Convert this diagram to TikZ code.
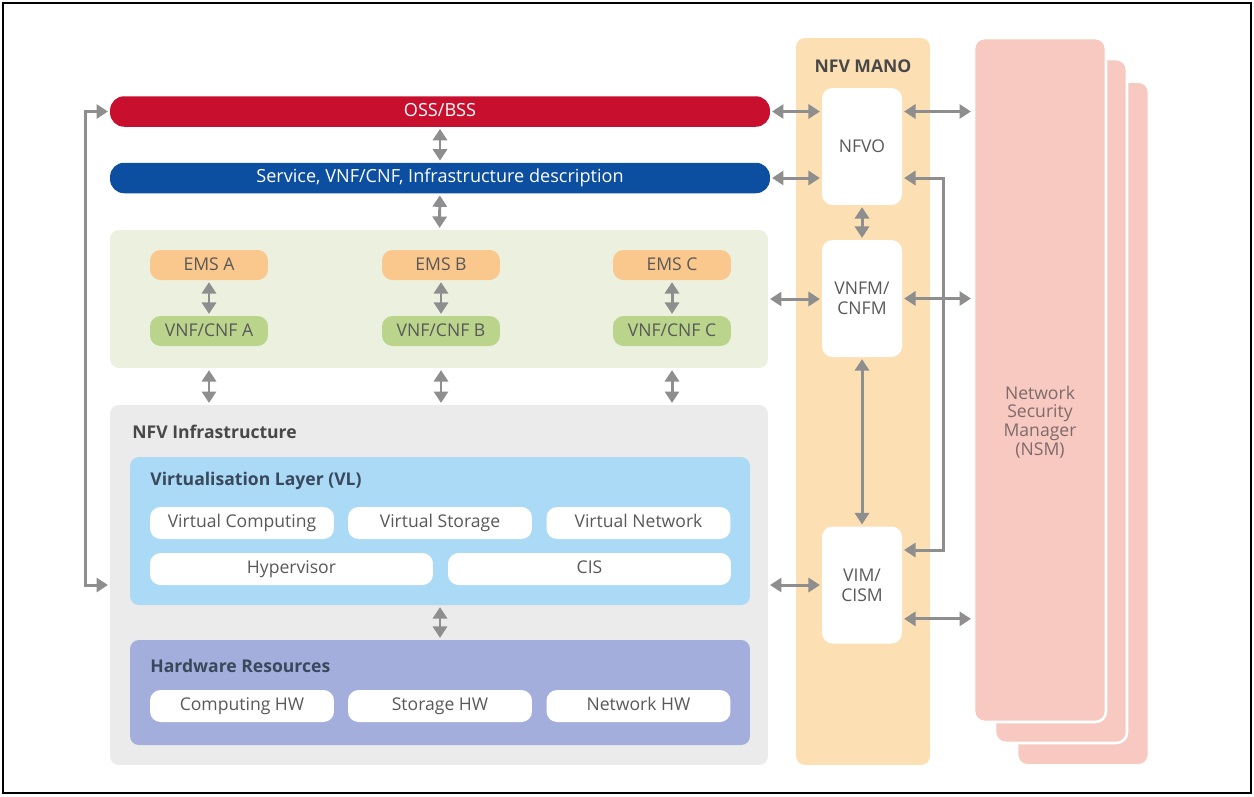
\documentclass[tikz,border=0pt]{standalone}
\usepackage{fontspec}
\setmainfont{Open Sans}
\usetikzlibrary{arrows.meta, positioning, calc}

\definecolor{ossred}{RGB}{200,16,46}
\definecolor{descblue}{RGB}{12,78,160}
\definecolor{vnfarea}{RGB}{235,241,222}
\definecolor{emsorange}{RGB}{250,199,140}
\definecolor{vnfgreen}{RGB}{187,212,140}
\definecolor{nfvigray}{RGB}{235,235,235}
\definecolor{vlblue}{RGB}{170,218,245}
\definecolor{hwblue}{RGB}{164,174,220}
\definecolor{manoorange}{RGB}{252,224,180}
\definecolor{nsmpink}{RGB}{247,201,193}
\definecolor{nsmtxt}{RGB}{125,107,107}
\definecolor{txtgray}{RGB}{89,89,89}
\definecolor{ttlgray}{RGB}{72,72,72}
\definecolor{ttlslate}{RGB}{58,72,92}
\definecolor{arrgray}{RGB}{142,142,142}

\begin{document}
\begin{tikzpicture}[x=0.02cm, y=-0.02cm,
  every node/.style={inner sep=0pt},
  area/.style={rounded corners=5pt},
  bar/.style={rounded corners=8pt, text=white, font=\fontsize{10.3}{12}\selectfont,
    text height=7.5pt, text depth=2pt, minimum width=13.2cm, minimum height=0.61cm},
  pill/.style={rounded corners=6pt, text=txtgray, font=\fontsize{10}{12}\selectfont,
    text height=7.5pt, text depth=1.5pt, minimum width=2.36cm, minimum height=0.6cm},
  box/.style={rounded corners=6pt, fill=white, text=txtgray, font=\fontsize{10}{12}\selectfont,
    text height=7.5pt, text depth=2pt, minimum height=0.64cm},
  mbox/.style={rounded corners=6pt, fill=white, text=txtgray, align=center,
    font=\fontsize{10}{11.5}\selectfont, minimum width=1.6cm, minimum height=2.34cm},
  ttl/.style={anchor=west, font=\fontsize{10}{12}\selectfont\bfseries},
  page/.style={rounded corners=6pt, fill=nsmpink, draw=white, line width=1.5pt,
    minimum width=2.64cm, minimum height=13.68cm},
  link/.style={draw=arrgray, line width=1.7pt,
    {Triangle[length=6.5pt,width=8pt]}-{Triangle[length=6.5pt,width=8pt]},
    shorten <=1pt, shorten >=1pt}]

  \useasboundingbox (0,0) rectangle (1254,796);
  \draw[line width=1.2pt] (3,3) rectangle (1251,793);

  % top bars
  \node[bar, fill=ossred] (oss) at (440,111.5) {OSS/BSS};
  \node[bar, fill=descblue] (desc) at (440,178) {Service, VNF/CNF, Infrastructure description};

  % VNF area
  \node[area, fill=vnfarea, minimum width=13.16cm, minimum height=2.76cm] (vnfs) at (439,299) {};
  \foreach \x/\n in {209/A, 441/B, 672/C} {
    \node[pill, fill=emsorange] (ems\n) at (\x,265) {EMS \n};
    \node[pill, fill=vnfgreen] (vnf\n) at (\x,331) {VNF/CNF \n};
    \draw[link] (ems\n) -- (vnf\n);
  }

  % NFV infrastructure
  \node[area, fill=nfvigray, minimum width=13.16cm, minimum height=7.2cm] (nfvi) at (439,585) {};
  \node[ttl, text=ttlgray] (nfvittl) at (132,432) {NFV Infrastructure};

  \node[area, fill=vlblue, minimum width=12.4cm, minimum height=2.96cm] (vl) at (440,531) {};
  \node[ttl, text=ttlslate] (vlttl) at (150,481) {Virtualisation Layer (VL)};
  \node[box, minimum width=3.68cm] (vcomp) at (242,523) {Virtual Computing};
  \node[box, minimum width=3.68cm] (vstor) at (440,523) {Virtual Storage};
  \node[box, minimum width=3.68cm] (vnet) at (638.5,523) {Virtual Network};
  \node[box, minimum width=5.66cm] (hyp) at (291.5,569) {Hypervisor};
  \node[box, minimum width=5.66cm] (cis) at (589.5,569) {CIS};

  \node[area, fill=hwblue, minimum width=12.4cm, minimum height=2.1cm] (hw) at (440,692.5) {};
  \node[ttl, text=ttlslate] (hwttl) at (150,666) {Hardware Resources};
  \node[box, minimum width=3.68cm] (comphw) at (242,706) {Computing HW};
  \node[box, minimum width=3.68cm] (storhw) at (440,706) {Storage HW};
  \node[box, minimum width=3.68cm] (nethw) at (638.5,706) {Network HW};

  % NFV MANO
  \node[area, fill=manoorange, minimum width=2.68cm, minimum height=14.54cm] (mano) at (863,401.5) {};
  \node[font=\fontsize{10}{12}\selectfont\bfseries, text=ttlgray] (manottl) at (863,66) {NFV MANO};
  \node[mbox] (nfvo) at (862,146.5) {NFVO};
  \node[mbox] (vnfm) at (862,298.5) {VNFM/\\CNFM};
  \node[mbox] (vim) at (862,585) {VIM/\\CISM};

  % NSM stack
  \node[page] (nsm3) at (1083,423.5) {};
  \node[page] (nsm2) at (1061,401) {};
  \node[page] (nsm) at (1040,380) {};
  \node[align=center, text=nsmtxt, font=\fontsize{10}{10.6}\selectfont] (nsmlbl) at (1040,422)
    {Network\\Security\\Manager\\(NSM)};

  % connectors
  \draw[link] (oss) -- (desc);
  \draw[link] (desc) -- (vnfs);
  \foreach \n in {A, B, C}
    \draw[link] (vnf\n |- vnfs.south) -- (vnf\n |- nfvi.north);
  \draw[link] (vl) -- (hw);
  \draw[link] (oss.west) -- ++(-24,0) |- (nfvi.west);

  \draw[link] (oss.east) -- (oss.east -| nfvo.west);
  \draw[link] (desc.east) -- (desc.east -| nfvo.west);
  \draw[link] (vnfs.east) -- (vnfs.east -| vnfm.west);
  \draw[link] (nfvi.east) -- (nfvi.east -| vim.west);
  \draw[link] (nfvo) -- (vnfm);
  \draw[link] (vnfm) -- (vim);

  \draw[link] (oss.east -| nfvo.east) -- (oss.east -| nsm.west);
  \draw[link] (vnfm.east) -- (vnfm.east -| nsm.west);
  \draw[link] ([yshift=0.5cm]vim.south east) -- ([yshift=0.5cm]vim.south east -| nsm.west);
  \draw[link] (desc.east -| nfvo.east) -- ++(41,0) |- ([yshift=0.7cm]vim.east);

\end{tikzpicture}
\end{document}
